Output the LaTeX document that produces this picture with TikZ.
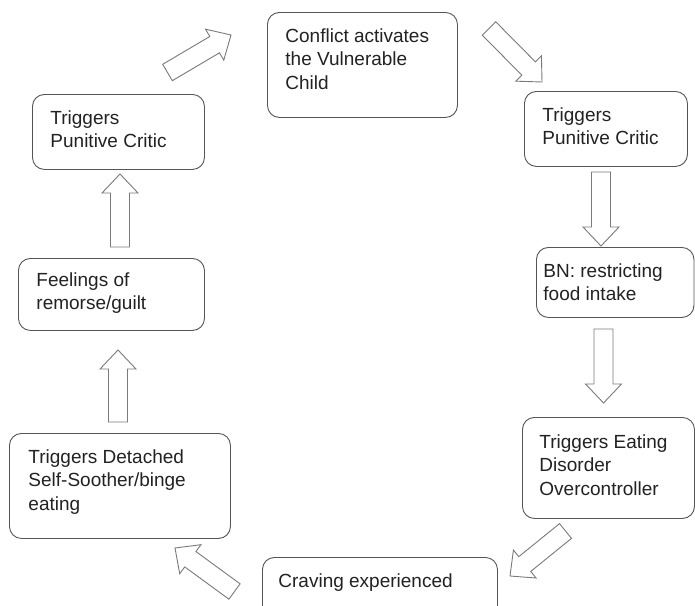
\documentclass[tikz,border=0pt]{standalone}
\usepackage{fontspec}
\setmainfont{Liberation Sans}
\usetikzlibrary{calc}
\definecolor{boxline}{HTML}{555555}
\definecolor{arrline}{HTML}{7A7A7A}
\definecolor{txt}{HTML}{222222}
\newcommand\boxtext[3]{\parbox[c][#2pt][t]{#1pt}{\raggedright #3}}
\newcommand\blockarrow[2]{%
  \draw[barrow] ($(#1)!9.5pt!90:(#2)$)
    -- ($($(#2)!19pt!(#1)$)!9.5pt!-90:(#1)$)
    -- ($($(#2)!19pt!(#1)$)!18pt!-90:(#1)$)
    -- (#2)
    -- ($($(#2)!19pt!(#1)$)!18pt!90:(#1)$)
    -- ($($(#2)!19pt!(#1)$)!9.5pt!90:(#1)$)
    -- ($(#1)!9.5pt!-90:(#2)$) -- cycle;}
\begin{document}
\begin{tikzpicture}[x=1pt,y=-1pt,
  box/.style={draw=boxline, line width=0.9pt, rounded corners=12pt, anchor=north west,
    inner xsep=18pt, inner ysep=16pt, font=\fontsize{19}{23.5}\selectfont, text=txt},
  barrow/.style={draw=arrline, line width=0.9pt, fill=white, line join=miter}]
\clip (0,0) rectangle (695,605);
\fill[white] (0,0) rectangle (695,605);
% boxes
\node[box] (b1) at (267,12) {\boxtext{154}{73}{Conflict activates\\the Vulnerable\\Child}};
\node[box] (b2) at (524,91) {\boxtext{127}{43}{Triggers\\Punitive Critic}};
\node[box, inner xsep=7pt] (b3) at (536,247) {\boxtext{143.5}{38}{BN: restricting\\food intake}};
\node[box, inner xsep=17pt, inner ysep=17pt] (b4) at (522,417) {\boxtext{138}{67}{Triggers Eating\\Disorder\\Overcontroller}};
\node[box, inner xsep=16pt] (b5) at (262,557) {\boxtext{203}{31}{Craving experienced}};
\node[box, inner xsep=19pt] (b6) at (9,433) {\boxtext{183}{73}{Triggers Detached\\Self-Soother/binge\\eating}};
\node[box, inner ysep=14pt] (b7) at (18,258) {\boxtext{150}{44}{Feelings of\\remorse/guilt}};
\node[box] (b8) at (32,94) {\boxtext{136}{43}{Triggers\\Punitive Critic}};
% arrow end points
\coordinate (a1s) at (167.5,72.5); \coordinate (a1e) at (231,35);
\coordinate (a2s) at (489,28.5);   \coordinate (a2e) at (542,82);
\coordinate (a3s) at (601,172);    \coordinate (a3e) at (601,246);
\coordinate (a4s) at (603.5,329);  \coordinate (a4e) at (603.5,403);
\coordinate (a5s) at (565.5,531);  \coordinate (a5e) at (510,576);
\coordinate (a6s) at (234.5,591.5);\coordinate (a6e) at (175,548);
\coordinate (a7s) at (118,422);    \coordinate (a7e) at (118,350);
\coordinate (a8s) at (120,247);    \coordinate (a8e) at (120,174);
% block arrows
\blockarrow{a1s}{a1e}
\blockarrow{a2s}{a2e}
\blockarrow{a3s}{a3e}
\blockarrow{a4s}{a4e}
\blockarrow{a5s}{a5e}
\blockarrow{a6s}{a6e}
\blockarrow{a7s}{a7e}
\blockarrow{a8s}{a8e}
\end{tikzpicture}
\end{document}
